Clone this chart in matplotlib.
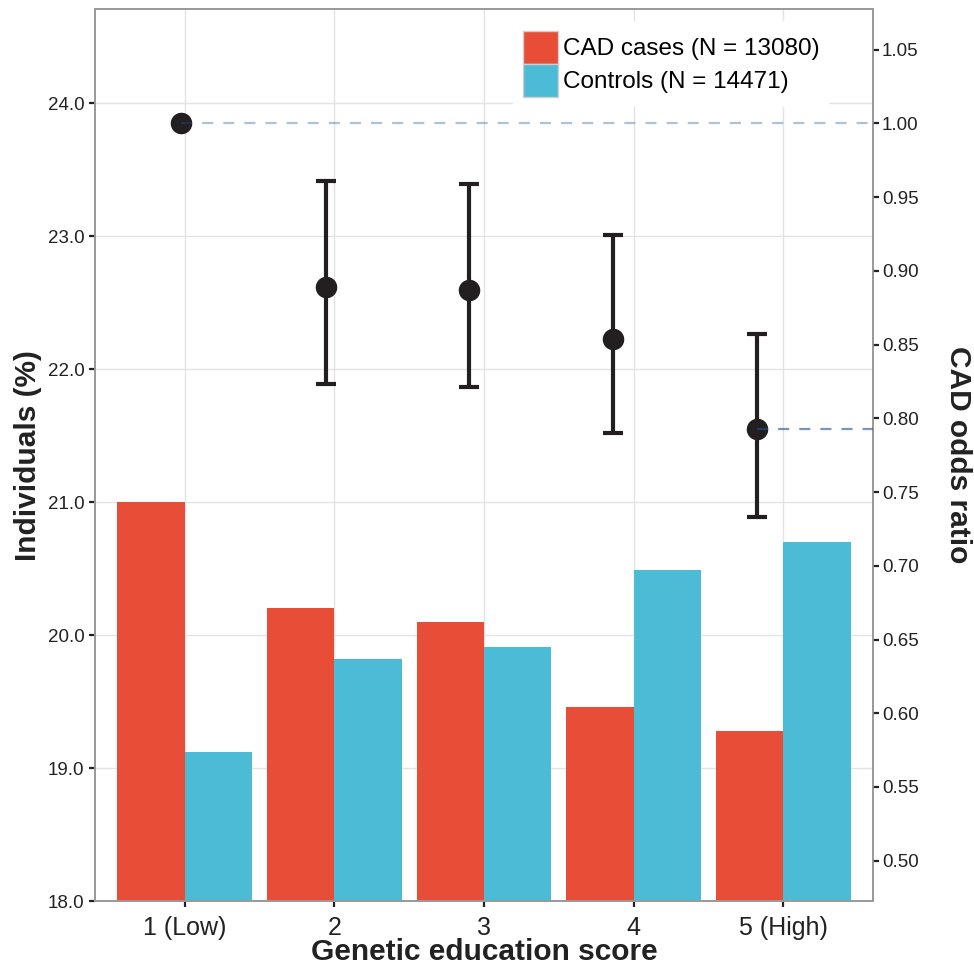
import matplotlib
matplotlib.use("Agg")
import matplotlib.pyplot as plt
import numpy as np

# ---- data ----
categories = ["1 (Low)", "2", "3", "4", "5 (High)"]
cases_pct = [21.0, 20.2, 20.1, 19.46, 19.28]
controls_pct = [19.12, 19.82, 19.91, 20.49, 20.70]
or_x = [0.976, 1.942, 2.903, 3.865, 4.827]
or_vals = [1.00, 0.889, 0.887, 0.854, 0.7925]
or_low = [1.00, 0.823, 0.821, 0.790, 0.733]
or_high = [1.00, 0.961, 0.959, 0.924, 0.857]
left_ticks = [18.0, 19.0, 20.0, 21.0, 22.0, 23.0, 24.0]
right_ticks = [0.50, 0.55, 0.60, 0.65, 0.70, 0.75, 0.80, 0.85, 0.90, 0.95, 1.00, 1.05]
legend_labels = ["CAD cases (N = 13080)", "Controls (N = 14471)"]

RED = "#E84D37"
BLUE = "#4CBBD6"
DARK = "#231F20"
FRAME = "#9A9A9A"
GRID = "#E3E3E3"

plt.rcParams['font.family'] = ['Liberation Sans', 'DejaVu Sans']

fig = plt.figure(figsize=(9.74, 9.67), dpi=100)
ax = fig.add_axes([95/974, 1-901/967, (873-95)/974, (901-9.3)/967])
ax2 = ax.twinx()

x = np.arange(1, len(categories)+1)
w = 0.45
b1 = ax.bar(x - w/2, np.array(cases_pct) - 18.0, width=w, bottom=18.0, color=RED, zorder=2, linewidth=0)
b2 = ax.bar(x + w/2, np.array(controls_pct) - 18.0, width=w, bottom=18.0, color=BLUE, zorder=2, linewidth=0)

ax.set_xlim(0.4, 5.6)
ax.set_ylim(18.0, 24.705)
ax.set_yticks(left_ticks)
ax.set_yticklabels([f"{v:.1f}" for v in left_ticks])
ax.set_xticks(x)
ax.set_xticklabels(categories)
ax.set_axisbelow(True)
ax.grid(True, color=GRID, linewidth=1.0, zorder=0)

ax2.set_ylim(0.4727, 1.0773)
ax2.set_yticks(right_ticks)
ax2.set_yticklabels([f"{v:.2f}" for v in right_ticks])

# dashed reference lines
ax2.plot([or_x[0], 5.6], [or_vals[0], or_vals[0]], color="#1F4E8C", alpha=0.35,
         linewidth=1.6, dashes=(5, 4.5), zorder=5, dash_capstyle='butt')
ax2.plot([or_x[-1], 5.6], [or_vals[-1], or_vals[-1]], color="#1F4E8C", alpha=0.6,
         linewidth=1.6, dashes=(5, 4.5), zorder=5, dash_capstyle='butt')

# error bars and points
err = [np.array(or_vals) - np.array(or_low), np.array(or_high) - np.array(or_vals)]
ax2.errorbar(or_x[1:], or_vals[1:], yerr=[err[0][1:], err[1][1:]], fmt='none',
             ecolor=DARK, elinewidth=3.0, capsize=7.0, capthick=3.0, zorder=3)
ax2.plot(or_x, or_vals, 'o', color=DARK, markersize=14.5, zorder=4)

# styling
for a in (ax, ax2):
    for s in a.spines.values():
        s.set_color(FRAME)
        s.set_linewidth(1.3)
    a.tick_params(axis='both', which='major', color='#222222', width=1.6, length=4.5,
                  labelcolor='#222222')
ax.tick_params(axis='y', labelsize=13.5, pad=3)
ax.tick_params(axis='x', labelsize=18, pad=6)
ax2.tick_params(axis='y', labelsize=13.5, pad=2)

ax.set_xlabel("Genetic education score", fontsize=21.5, fontweight='bold', color='#222222', labelpad=-1)
ax.set_ylabel("Individuals (%)", fontsize=21.5, fontweight='bold', color='#222222', labelpad=4)
ax2.set_ylabel("CAD odds ratio", fontsize=21.5, fontweight='bold', color='#222222',
               rotation=270, labelpad=38)

leg = ax2.legend([b1, b2], legend_labels, loc='upper left', bbox_to_anchor=(0.537, 0.987),
                 fontsize=17.5, frameon=True, fancybox=False, edgecolor='none', facecolor='white',
                 framealpha=1.0, handlelength=1.45, handleheight=1.72, handletextpad=0.2,
                 labelspacing=0.0, borderpad=0.4, borderaxespad=0)
for h in leg.legend_handles:
    h.set_edgecolor('#CFCFCF')
    h.set_linewidth(1.0)
leg.set_zorder(10)

fig.savefig("out.png", dpi=100)
